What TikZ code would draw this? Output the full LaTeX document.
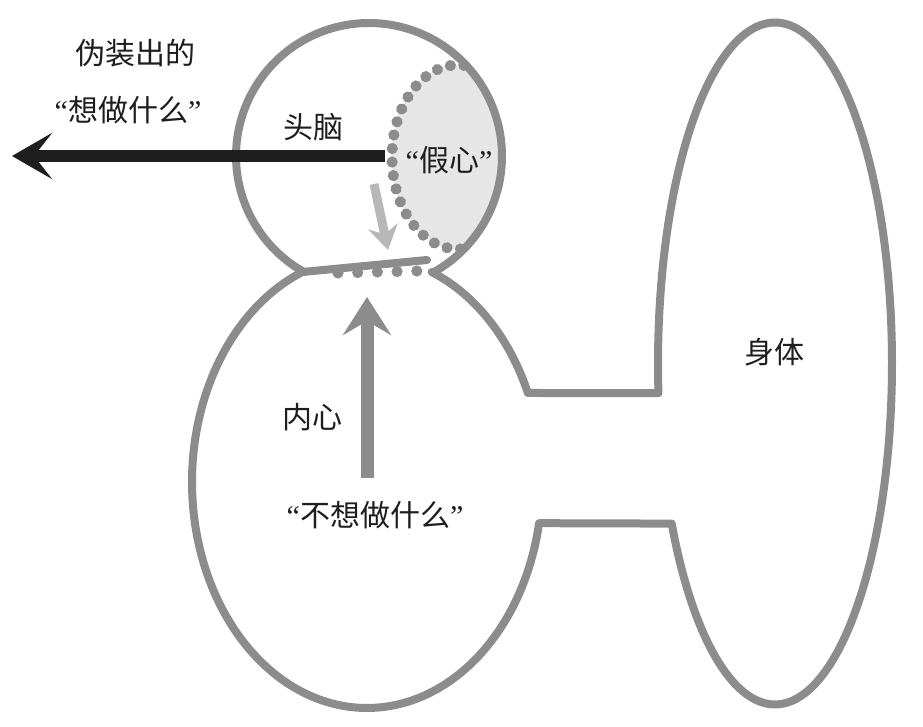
\documentclass[tikz,border=0pt]{standalone}
\usepackage{fontspec}
\newfontfamily\cjk{Noto Sans CJK SC}
\newfontfamily\qf{Liberation Serif}
\usetikzlibrary{arrows.meta,decorations.markings}
\definecolor{outl}{HTML}{8C8C8C}
\definecolor{fake}{HTML}{E6E6E6}
\definecolor{lightarr}{HTML}{B8B8B8}
\definecolor{dark}{HTML}{1E1E1E}
\newcommand\qt[1]{{\qf “}{\cjk #1}{\qf ”}}
\begin{document}
\begin{tikzpicture}[x=1pt,y=-1pt,
  outline/.style={draw=outl, line width=8pt, line join=round, line cap=round},
  dotted path/.style={decoration={markings, mark=between positions 0 and 1 step #1 with {\fill[outl] (0,0) circle[radius=5.6pt];}}, decorate},
  lbl/.style={font=\fontsize{30}{36}\selectfont, text=dark, inner sep=0pt},
]
\useasboundingbox (0,0) rectangle (923,727);
\fill[white] (0,0) rectangle (923,727);

% false heart (shaded region inside the head)
\begin{scope}
  \clip (369,156) circle[radius=133];
  \fill[fake] (458,157) ellipse[x radius=66, y radius=92];
  \path[dotted path=13.6pt] (458,157) ellipse[x radius=66, y radius=92];
\end{scope}

% head
\draw[outline] plot[domain=119.3:420.7, samples=140] ({369+133*cos(\x)},{156+133*sin(\x)});

% inner heart + body outline
\draw[outline] plot[domain=-68.3:-23.2, samples=40] ({367+175*cos(\x)},{482+226*sin(\x)})
  -- plot[domain=175:512, samples=220] ({775+117*cos(\x)},{363.5+341*sin(\x)})
  -- plot[domain=10.5:248.3, samples=160] ({367+175*cos(\x)},{482+226*sin(\x)});

% neck
\coordinate (nd1) at (338,273);
\coordinate (nd2) at (417,271);
\path[dotted path=19.7pt] (nd1) -- (nd2);
\coordinate (nkL) at (302.5,272);
\coordinate (nkR) at (427,260);
\draw[outline] (nkL) -- (nkR);

% labels
\node[lbl] (t1) at (135,53) {\cjk 伪装出的};
\node[lbl] (t2) at (128,110) {\qt{想做什么}};
\node[lbl] (brain) at (313,127) {\cjk 头脑};
\node[lbl] (fakeh) at (449,160) {\qt{假心}};
\node[lbl] (inner) at (312,417) {\cjk 内心};
\node[lbl] (notwant) at (375,515) {\qt{不想做什么}};
\node[lbl] (body) at (774,352) {\cjk 身体};

% arrows
\coordinate (bkS) at (385,156);
\coordinate (bkE) at (12,156);
\draw[dark, line width=12pt, -{Stealth[length=40pt, width=46pt, inset=18pt]}] (bkS) -- (bkE);
\coordinate (lgS) at (374,184);
\coordinate (lgE) at (388,250);
\draw[lightarr, line width=9pt, -{Stealth[length=24pt, width=30pt, inset=8pt]}] (lgS) -- (lgE);
\coordinate (upS) at (367,478);
\coordinate (upE) at (367,297);
\draw[outl, line width=13pt, -{Stealth[length=38pt, width=48pt, inset=14pt]}] (upS) -- (upE);
\end{tikzpicture}
\end{document}
